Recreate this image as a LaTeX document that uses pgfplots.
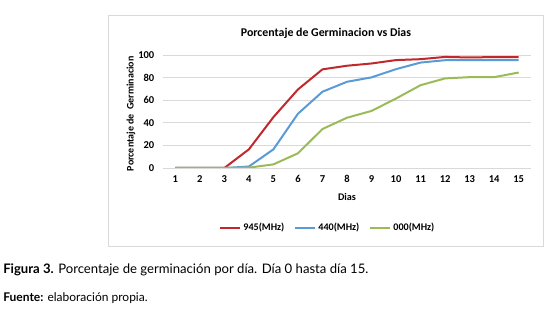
\documentclass[border=0pt]{standalone}
\usepackage{pgfplots}
\pgfplotsset{compat=1.18}
\usepackage{fontspec}
\setmainfont{Carlito}
\newfontfamily\capfont{Lato}
\definecolor{cred}{HTML}{C0282C}
\definecolor{cblue}{HTML}{5B9BD5}
\definecolor{cgreen}{HTML}{9BBB59}
\definecolor{cgrid}{HTML}{D9D9D9}
\begin{document}
\begin{tikzpicture}
\path[use as bounding box] (0pt,0pt) rectangle (420pt,-234.75pt);
\draw[cgrid, line width=0.6pt] (81pt,-11.25pt) rectangle (407.25pt,-184.5pt);
\node[font=\bfseries\fontsize{8.9}{10}\selectfont] at (244.5pt,-24.75pt) {Porcentaje de Germinacion vs Dias};
\begin{axis}[
  at={(122.25pt,-126pt)}, anchor=south west,
  scale only axis, width=276pt, height=84.75pt,
  xmin=0.5, xmax=15.5, ymin=0, ymax=100,
  xtick={1,...,15}, ytick={0,20,...,100},
  axis x line*=bottom, axis y line*=left,
  x axis line style={draw=cgrid, -},
  y axis line style={draw=none},
  major tick length=0pt,
  ymajorgrids, grid style={cgrid, line width=0.5pt},
  tick label style={font=\bfseries\fontsize{7.9}{9}\selectfont},
  /pgf/number format/assume math mode=true,
  xticklabel style={yshift=-2pt},
  yticklabel style={xshift=-3pt},
  ylabel={Porcentaje de\ \ Germinacion},
  ylabel style={at={(axis description cs:-0.087,0.48)}, anchor=center, font=\bfseries\fontsize{7.5}{9}\selectfont},
  xlabel={Dias},
  xlabel style={at={(axis description cs:0.5,-0.257)}, anchor=center, font=\bfseries\fontsize{7.6}{9}\selectfont},
  legend columns=3,
  legend style={at={(axis description cs:0.448,-0.53)}, anchor=center, draw=none, fill=none,
    font=\bfseries\fontsize{7.6}{9}\selectfont,
    /tikz/every even column/.append style={column sep=5pt}},
  legend image code/.code={\draw[#1] (0pt,0pt) -- (15pt,0pt);},
  every axis plot/.append style={line width=1.5pt, no markers},
]
\addplot[cred] coordinates {(1,0)(2,0)(3,0)(4,16.5)(5,45)(6,69.5)(7,87.3)(8,90.5)(9,92.5)(10,95.5)(11,96.3)(12,98.3)(13,97.8)(14,98.2)(15,98.2)};
\addplot[cblue] coordinates {(1,0)(2,0)(3,0)(4,1.3)(5,16.5)(6,48)(7,67.5)(8,76.3)(9,80.2)(10,87.5)(11,93.3)(12,95.4)(13,95.4)(14,95.4)(15,95.4)};
\addplot[cgreen] coordinates {(1,0)(2,0)(3,0)(4,0.3)(5,3.2)(6,13)(7,34.5)(8,44.5)(9,50.5)(10,61.5)(11,73.3)(12,79.3)(13,80.4)(14,80.4)(15,84.5)};
\legend{945(MHz),440(MHz),000(MHz)}
\end{axis}
\node[anchor=west, font=\capfont\fontsize{9.85}{11}\selectfont, inner sep=0pt] at (2.25pt,-202.5pt) {\textbf{Figura 3.} Porcentaje de germinación por día. Día 0 hasta día 15.};
\node[anchor=west, font=\capfont\fontsize{9}{10}\selectfont, inner sep=0pt] at (2.25pt,-223.5pt) {\textbf{Fuente:} elaboración propia.};
\end{tikzpicture}
\end{document}
